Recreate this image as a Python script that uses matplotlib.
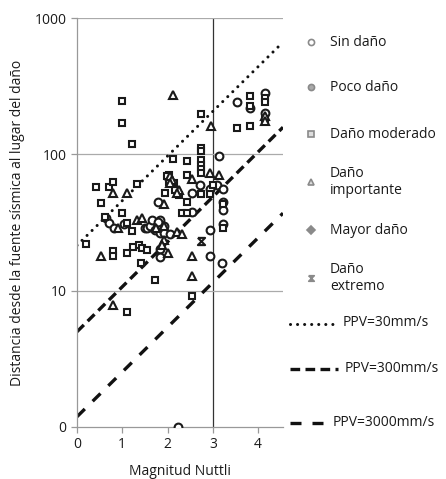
import matplotlib
matplotlib.use("Agg")
import matplotlib.pyplot as plt

plt.rcParams['font.family'] = ['Open Sans', 'DejaVu Sans']

# Data (Magnitud Nuttli, distance)
sin_dano_m = [3.54, 3.82, 4.15, 4.15, 3.13, 1.80, 2.54, 2.72, 2.94, 3.09, 3.22, 2.53, 3.22,
              3.22, 3.22, 2.94, 2.94, 3.20, 2.24, 0.63, 0.70, 0.81, 1.03, 1.50, 1.54, 1.61,
              1.66, 1.73, 1.84, 1.92, 1.84, 1.92, 1.84, 1.84, 2.05, 1.80]
sin_dano_d = [241, 220, 283, 201, 98, 45, 52, 60, 56, 60, 56, 38, 45,
              39, 31, 28, 18, 16, 1.0, 34, 31.4, 29, 31, 29, 29, 30,
              33, 28, 33, 29.6, 26.5, 26.5, 20.3, 17.8, 26, 32]

poco_dano_m = []
poco_dano_d = []

moderado_m = [1.00, 1.00, 1.21, 2.13, 2.73, 3.53, 3.82, 3.82, 3.82, 4.15, 4.15, 4.15,
              2.73, 2.73, 2.73, 2.73, 2.73, 2.73, 2.42, 2.42, 2.03, 2.03, 1.99, 2.17,
              2.25, 1.95, 2.14, 2.42, 2.31, 2.42, 2.73, 2.94, 3.01, 3.22, 3.22,
              0.42, 0.53, 0.71, 0.80, 1.32, 0.99, 0.62, 1.10, 1.21, 0.20, 0.79, 0.79,
              1.11, 1.24, 1.36, 1.43, 1.54, 1.41, 1.72, 1.11, 2.53]
moderado_d = [247, 170, 120, 93, 199, 155, 161, 268, 225, 259, 240, 182,
              112, 105, 91, 84, 78, 73, 89, 71, 71, 63, 69, 55,
              50, 52, 62, 45, 37, 37, 51.5, 51.5, 60, 43, 29,
              58, 44, 58, 63, 61, 37, 34.5, 31.6, 27.4, 22, 19.5, 18,
              19, 21, 21.8, 20.6, 20, 16, 12, 7.0, 9.1]

importante_m = [2.11, 2.95, 4.15, 4.15, 2.94, 3.14, 2.53, 2.05, 2.10, 2.25, 2.20, 0.79,
                1.10, 1.92, 0.91, 1.32, 1.43, 1.75, 1.92, 1.92, 1.88, 2.20, 2.31, 0.54,
                2.53, 2.53, 0.79, 2.02, 2.05]
importante_d = [271, 162, 192, 175, 73, 71, 66, 69, 65, 55, 52, 52,
                52, 43, 29, 33, 34, 29, 30, 23.6, 21.8, 27, 26, 18,
                18, 12.9, 7.9, 19, 62]

mayor_m = []
mayor_d = []

extremo_m = [2.73]
extremo_d = [23]

# PPV lines, end points at M=0 and M=4.55
line_m = [0, 4.55]
ppv30 = [21.5, 665]
ppv300 = [5.0, 158]
ppv3000 = [1.19, 37]

W, H = 446, 479
fig = plt.figure(figsize=(W / 100, H / 100), dpi=100)
ax = fig.add_axes([77 / W, 1 - 427 / H, (283 - 77) / W, (427 - 18) / H])

hourglass = [(-1, 1), (1, 1), (-1, -1), (1, -1), (-1, 1)]
pt = dict(linestyle='none', mfc='white', mec='#1a1a1a', mew=1.5, zorder=3)
ax.plot(sin_dano_m, sin_dano_d, marker='o', ms=5.6, **pt)
ax.plot(poco_dano_m, poco_dano_d, marker='o', ms=5.6, **pt)
ax.plot(moderado_m, moderado_d, marker='s', ms=4.6, **pt)
ax.plot(importante_m, importante_d, marker='^', ms=5.6, **pt)
ax.plot(mayor_m, mayor_d, marker='D', ms=4.6, **pt)
ax.plot(extremo_m, extremo_d, marker=hourglass, ms=5.2, **pt)

ax.plot(line_m, ppv30, color='#111111', lw=2.2, linestyle=(0, (0.01, 2.3)),
        dash_capstyle='round', zorder=2)
ax.plot(line_m, ppv300, color='#111111', lw=2.4, linestyle=(0, (2.9, 1.6)), zorder=2)
ax.plot(line_m, ppv3000, color='#111111', lw=2.4, linestyle=(0, (3.3, 3.3)), zorder=2)

ax.axvline(3, color='#333333', lw=0.9, zorder=1)
for yv in [10, 100, 1000]:
    ax.axhline(yv, color='#aaaaaa', lw=0.9, zorder=1)

ax.set_yscale('log')
ax.set_xlim(0, 4.55)
ax.set_ylim(1, 1000)
ax.set_yticks([1, 10, 100, 1000])
ax.set_yticklabels(['0', '10', '100', '1000'])
ax.minorticks_off()
ax.set_xticks([0, 1, 2, 3, 4])
ax.tick_params(colors='#999999', labelcolor='#1a1a1a', labelsize=10, length=4, width=0.9)
for s in ['top', 'right']:
    ax.spines[s].set_visible(False)
for s in ['left', 'bottom']:
    ax.spines[s].set_color('#999999')
    ax.spines[s].set_linewidth(0.9)
ax.set_xlabel('Magnitud Nuttli', fontsize=10, color='#1a1a1a', labelpad=8)
ax.set_ylabel('Distancia desde la fuente sísmica al lugar del daño', fontsize=10,
              color='#1a1a1a', labelpad=7)

# Legend drawn in pixel coordinates
lax = fig.add_axes([0, 0, 1, 1], zorder=5)
lax.set_xlim(0, W)
lax.set_ylim(H, 0)
lax.axis('off')
lax.patch.set_alpha(0)

gray = '#8a8a8a'
entries = [
    ('o', 'white', 4.4, 42, 'Sin daño'),
    ('o', '#aaaaaa', 4.4, 87, 'Poco daño'),
    ('s', '#dddddd', 3.8, 134, 'Daño moderado'),
    ('^', '#dddddd', 4.4, 182, 'Daño\nimportante'),
    ('D', gray, 3.6, 230, 'Mayor daño'),
    (hourglass, gray, 4.0, 278, 'Daño\nextremo'),
]
for mk, fc, ms, y, lab in entries:
    lax.plot([311], [y], marker=mk, ms=ms, mfc=fc, mec=gray, mew=1.2, linestyle='none')
    lax.text(330, y, lab, va='center', ha='left', fontsize=10, color='#1a1a1a',
             linespacing=1.1)

lax.plot([290, 333], [324, 324], color='#111111', lw=2.2, linestyle=(0, (0.01, 2.3)),
         dash_capstyle='round')
lax.text(343, 323, 'PPV=30mm/s', va='center', ha='left', fontsize=10, color='#1a1a1a')
lax.plot([290, 338], [369, 369], color='#111111', lw=2.4, linestyle=(0, (2.9, 1.6)))
lax.text(345, 368, 'PPV=300mm/s', va='center', ha='left', fontsize=10, color='#1a1a1a')
lax.plot([290, 325], [423, 423], color='#111111', lw=2.4, linestyle=(0, (3.3, 3.3)))
lax.text(333, 422, 'PPV=3000mm/s', va='center', ha='left', fontsize=10, color='#1a1a1a')

fig.savefig('out.png', dpi=100)
